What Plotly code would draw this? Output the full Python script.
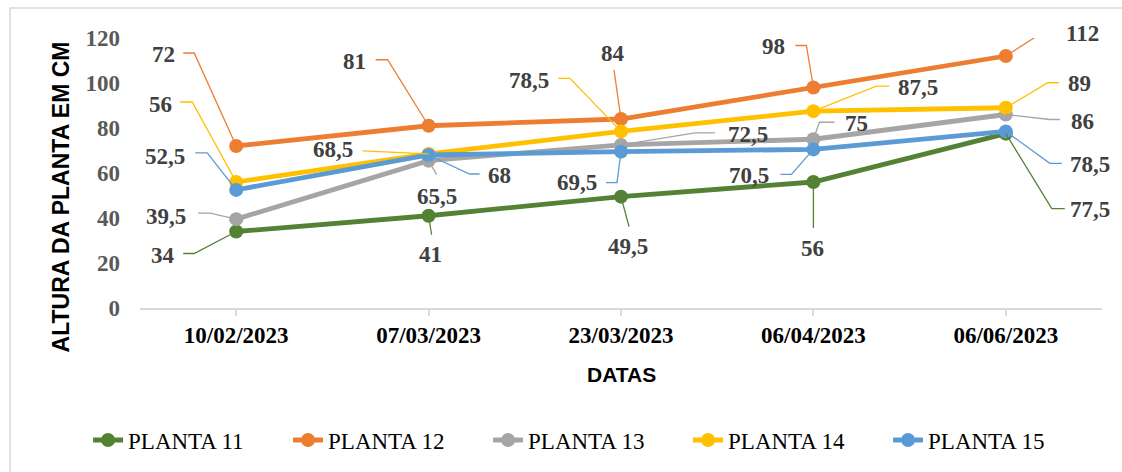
import plotly.graph_objects as go

# Measurement dates (categories on the x axis)
datas = ["10/02/2023", "07/03/2023", "23/03/2023", "06/04/2023", "06/06/2023"]

# Plant height in cm for each date
planta_11 = [34, 41, 49.5, 56, 77.5]
planta_12 = [72, 81, 84, 98, 112]
planta_13 = [39.5, 65.5, 72.5, 75, 86]
planta_14 = [56, 68.5, 78.5, 87.5, 89]
planta_15 = [52.5, 68, 69.5, 70.5, 78.5]

y_ticks = [0, 20, 40, 60, 80, 100, 120]

series = [
    ("PLANTA 11", planta_11, "#548235"),
    ("PLANTA 12", planta_12, "#ED7D31"),
    ("PLANTA 13", planta_13, "#A5A5A5"),
    ("PLANTA 14", planta_14, "#FFC000"),
    ("PLANTA 15", planta_15, "#5B9BD5"),
]

# Data-label placement in screen pixels relative to each point (x right, y up):
# (label dx, label dy, elbow dx, elbow dy, leader end dx, leader end dy)
label_offsets = {
    "PLANTA 11": [(-73, -24, -42, -22, -53, -22), (2, -39, 3, -19, 3, -19),
                  (7, -50, 8, -30, 8, -30), (-1, -66, 0, -46, 0, -46),
                  (84, -76, 46, -75, 59, -75)],
    "PLANTA 12": [(-73, 92, -42, 93, -53, 93), (-74, 64, -41, 66, -53, 66),
                  (-8, 66, -7, 49, -7, 49), (-40, 41, -7, 42, -18, 42),
                  (77, 23, 39, 25, 50, 25)],
    "PLANTA 13": [(-70, 3, -26, 6, -38, 6), (8, -36, 8, -14, 8, -14),
                  (127, 10, 74, 12, 94, 12), (43, 16, 6, 17, 21, 17),
                  (77, -7, 44, -5, 54, -5)],
    "PLANTA 14": [(-76, 78, -44, 80, -56, 80), (-96, 4, -66, 3, -66, 3),
                  (-92, 51, -51, 53, -63, 53), (105, 24, 63, 25, 76, 25),
                  (74, 24, 42, 25, 53, 25)],
    "PLANTA 15": [(-71, 33, -29, 37, -41, 37), (71, -20, 41, -19, 51, -19),
                  (-44, -31, -4, -31, -15, -31), (-64, -26, -22, -25, -33, -25),
                  (84, -33, 44, -32, 56, -32)],
}

SERIF = "Liberation Serif"
SANS = "Liberation Sans"


def fmt(v):
    s = f"{v:g}"
    return s.replace(".", ",")


fig = go.Figure()
annotations = []
shapes = []

for name, values, color in series:
    fig.add_trace(go.Scatter(
        x=list(range(len(datas))), y=values, name=name,
        mode="lines+markers",
        line=dict(color=color, width=4.8),
        marker=dict(color=color, size=14),
        cliponaxis=False,
    ))
    for i, v in enumerate(values):
        ldx, ldy, ex, ey, hx, hy = label_offsets[name][i]
        annotations.append(dict(
            x=i, y=v, xref="x", yref="y", text=f"<b>{fmt(v)}</b>",
            showarrow=False, xshift=ldx, yshift=ldy,
            font=dict(family=SERIF, size=23, color="#404040"),
        ))
        shapes.append(dict(
            type="path", xref="x", yref="y",
            xsizemode="pixel", ysizemode="pixel",
            xanchor=i, yanchor=v,
            path=f"M0,0 L{ex},{ey} L{hx},{hy}",
            line=dict(color=color, width=1.3), layer="above",
        ))

# outer chart frame
shapes.append(dict(
    type="rect", xref="paper", yref="paper",
    x0=-0.135, x1=1.05, y0=-0.7, y1=1.111,
    line=dict(color="#D9D9D9", width=1.5), layer="below",
))

annotations.append(dict(
    x=-0.082, y=0.41, xref="paper", yref="paper", text="<b>ALTURA DA PLANTA EM CM</b>",
    showarrow=False, textangle=-90, xanchor="center", yanchor="middle",
    font=dict(family=SANS, size=23, color="#000000"),
))
annotations.append(dict(
    x=0.5, y=-0.248, xref="paper", yref="paper", text="<b>DATAS</b>",
    showarrow=False, xanchor="center", yanchor="middle",
    font=dict(family=SANS, size=21, color="#000000"),
))

fig.update_layout(
    width=1122, height=472,
    margin=dict(l=140, r=19.5, t=38, b=164, autoexpand=False),
    paper_bgcolor="white", plot_bgcolor="white",
    showlegend=True,
    legend=dict(
        orientation="h", x=-0.054, xanchor="left", y=-0.489, yanchor="middle",
        font=dict(family=SERIF, size=23, color="#000000"),
        entrywidth=155, entrywidthmode="pixels",
        itemwidth=30, tracegroupgap=0,
    ),
    xaxis=dict(
        tickmode="array", tickvals=list(range(len(datas))), ticktext=[f"<b>{d}</b>" for d in datas],
        range=[-0.5, len(datas) - 0.5],
        showline=True, linecolor="#D9D9D9", linewidth=1.5,
        ticks="outside", ticklen=6, tickcolor="#D9D9D9", tickwidth=1.5,
        showgrid=False, zeroline=False, fixedrange=True,
        tickfont=dict(family=SERIF, size=23, color="#000000"),
    ),
    yaxis=dict(
        range=[0, 120], tickmode="array", tickvals=y_ticks,
        ticktext=[f"<b>{t}</b>" for t in y_ticks],
        showline=False, showgrid=False, zeroline=False, ticks="",
        tickfont=dict(family=SERIF, size=23, color="#595959"),
        ticklabelstandoff=19,
    ),
    annotations=annotations,
    shapes=shapes,
)

fig.write_html("out.html")
